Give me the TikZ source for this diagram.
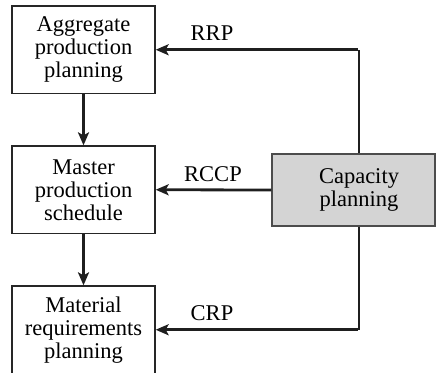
\documentclass[tikz,border=0pt]{standalone}
\usepackage{fontspec}
\setmainfont{Liberation Serif}
\usetikzlibrary{arrows.meta}
\begin{document}
\begin{tikzpicture}[x=1pt,y=-1pt,
  box/.style={draw=black!85, line width=1.3pt, fill=white, minimum width=143pt, minimum height=87.5pt,
     inner sep=0pt, align=center, font=\fontsize{22.5}{23}\selectfont},
  capbox/.style={draw=black!70, line width=1.3pt, fill=black!17, minimum width=163pt, minimum height=72pt, inner sep=0pt},
  conn/.style={line width=2.8pt, draw=black!88, -{Stealth[length=13pt,width=11pt,inset=3pt]}},
  plain/.style={line width=2.8pt, draw=black!88},
  lbl/.style={font=\fontsize{22.5}{23}\selectfont, anchor=base, inner sep=0pt},
  txt/.style={align=center, font=\fontsize{22.5}{23}\selectfont, inner sep=0pt}]
\useasboundingbox (0,0) rectangle (436,372);
\clip (0,0) rectangle (436,372);
\node[box] (app) at (83.5,49.75) {Aggregate\\production\\planning};
\node[box] (mps) at (83.5,189.75) {Master\\production\\schedule};
\node[box] (mrp) at (83.5,329.75) {Material\\requirements\\planning};
\node[capbox] (cap) at (353.5,190) {};
\node[txt] (captext) at (359,190) {Capacity\\planning};
\coordinate (top) at (359,49.75);
\coordinate (bot) at (359,329.75);
\draw[conn] (app.south) -- (mps.north);
\draw[conn] (mps.south) -- (mrp.north);
\draw[plain] (cap.north -| top) -- (top);
\draw[conn] ([xshift=-1.4pt]top) -- (app.east);
\draw[conn] (cap.west) -- (mps.east);
\draw[plain] (cap.south -| bot) -- (bot);
\draw[conn] ([xshift=-1.4pt]bot) -- (mrp.east);
\node[lbl] (rrp) at (212,40) {RRP};
\node[lbl] (rccp) at (213,181) {RCCP};
\node[lbl] (crp) at (212,320) {CRP};
\end{tikzpicture}
\end{document}
